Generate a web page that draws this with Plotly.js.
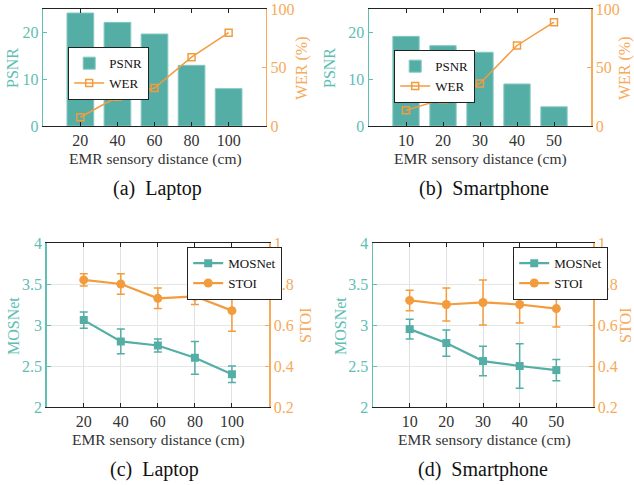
<!DOCTYPE html>
<html><head><meta charset="utf-8">
<script src="https://cdn.plot.ly/plotly-3.0.1.min.js"></script>
<style>html,body{margin:0;padding:0;background:#fff}#chart{width:634px;height:485px}</style>
</head><body><div id="chart"></div>
<script>
// ---- data ----
const laptopDist = [20, 40, 60, 80, 100];
const phoneDist = [10, 20, 30, 40, 50];
const laptopPSNR = [24.2, 22.2, 19.7, 13.0, 8.0];
const laptopWER = [7.5, 25, 32.5, 59, 80];
const phonePSNR = [19.2, 17.2, 15.8, 9.0, 4.1];
const phoneWER = [13.5, 23, 36.5, 69, 89];
const laptopMOS = [3.06, 2.80, 2.75, 2.60, 2.40];
const laptopMOSErr = [0.10, 0.15, 0.08, 0.20, 0.10];
const laptopSTOI = [0.82, 0.80, 0.73, 0.74, 0.67];
const laptopSTOIErr = [0.03, 0.05, 0.05, 0.04, 0.10];
const phoneMOS = [2.95, 2.78, 2.56, 2.50, 2.45];
const phoneMOSErr = [0.12, 0.16, 0.18, 0.27, 0.13];
const phoneSTOI = [0.72, 0.70, 0.71, 0.70, 0.68];
const phoneSTOIErr = [0.05, 0.08, 0.11, 0.09, 0.09];
const captions = ['(a)\u00a0 Laptop', '(b)\u00a0 Smartphone', '(c)\u00a0 Laptop', '(d)\u00a0 Smartphone'];
const xTitle = 'EMR sensory distance (cm)';

const W = 634, H = 485;
const TEAL = 'rgb(85,174,165)';
const TEAL_T = 'rgb(96,190,178)';
const ORANGE = 'rgb(243,156,62)';
const ORANGE_T = 'rgb(246,170,90)';
const FONT = '"Liberation Serif", "Times New Roman", serif';
const px = v => v / W;
const py = v => 1 - v / H;

const traces = [
  {type:'bar', x:laptopDist, y:laptopPSNR, name:'PSNR', xaxis:'x', yaxis:'y', width:14.4,
   marker:{color:TEAL, line:{color:'rgb(130,200,192)', width:1}}, legend:'legend'},
  {type:'scatter', mode:'lines+markers', x:laptopDist, y:laptopWER, name:'WER', xaxis:'x', yaxis:'y2',
   line:{color:ORANGE, width:1.5}, marker:{symbol:'square-open', size:7, color:ORANGE, line:{width:1.5}}, legend:'legend'},
  {type:'bar', x:phoneDist, y:phonePSNR, name:'PSNR', xaxis:'x2', yaxis:'y3', width:7.1,
   marker:{color:TEAL, line:{color:'rgb(130,200,192)', width:1}}, legend:'legend2'},
  {type:'scatter', mode:'lines+markers', x:phoneDist, y:phoneWER, name:'WER', xaxis:'x2', yaxis:'y4',
   line:{color:ORANGE, width:1.5}, marker:{symbol:'square-open', size:7, color:ORANGE, line:{width:1.5}}, legend:'legend2'},
  {type:'scatter', mode:'lines+markers', x:laptopDist, y:laptopMOS, name:'MOSNet', xaxis:'x3', yaxis:'y5',
   error_y:{type:'data', array:laptopMOSErr, color:TEAL, thickness:1.5, width:4},
   line:{color:TEAL, width:2.2}, marker:{symbol:'square', size:8, color:TEAL}, legend:'legend3'},
  {type:'scatter', mode:'lines+markers', x:laptopDist, y:laptopSTOI, name:'STOI', xaxis:'x3', yaxis:'y6',
   error_y:{type:'data', array:laptopSTOIErr, color:ORANGE, thickness:1.5, width:4},
   line:{color:ORANGE, width:2.2}, marker:{symbol:'circle', size:9, color:ORANGE}, legend:'legend3'},
  {type:'scatter', mode:'lines+markers', x:phoneDist, y:phoneMOS, name:'MOSNet', xaxis:'x4', yaxis:'y7',
   error_y:{type:'data', array:phoneMOSErr, color:TEAL, thickness:1.5, width:4},
   line:{color:TEAL, width:2.2}, marker:{symbol:'square', size:8, color:TEAL}, legend:'legend4'},
  {type:'scatter', mode:'lines+markers', x:phoneDist, y:phoneSTOI, name:'STOI', xaxis:'x4', yaxis:'y8',
   error_y:{type:'data', array:phoneSTOIErr, color:ORANGE, thickness:1.5, width:4},
   line:{color:ORANGE, width:2.2}, marker:{symbol:'circle', size:9, color:ORANGE}, legend:'legend4'}
];

const TICK = 16;
function xax(dom, anchor, range, tickvals, grid) {
  return {domain:dom, anchor:anchor, range:range, tickvals:tickvals, ticks:'inside', ticklen:4,
    tickcolor:'#222', linecolor:'#222', linewidth:1.2, showline:true, mirror:'ticks',
    showgrid:grid, gridcolor:'rgb(225,225,225)', gridwidth:1, zeroline:false,
    tickfont:{family:FONT, size:TICK, color:'#333'}};
}
function yl(dom, anchor, range, dtick, grid) {
  return {domain:dom, anchor:anchor, range:range, dtick:dtick, ticks:'inside', ticklen:4,
    tickcolor:TEAL_T, linecolor:TEAL_T, linewidth:1.5, showline:true, side:'left',
    showgrid:grid, gridcolor:'rgb(225,232,230)', gridwidth:1, zeroline:false,
    tickfont:{family:FONT, size:TICK, color:TEAL_T}};
}
function yr(overlay, anchor, range, dtick) {
  return {overlaying:overlay, anchor:anchor, range:range, dtick:dtick, side:'right', ticks:'inside', ticklen:4,
    tickcolor:ORANGE_T, linecolor:ORANGE_T, linewidth:1.5, showline:true,
    showgrid:false, zeroline:false, tickfont:{family:FONT, size:TICK, color:ORANGE_T}};
}

const topY = [py(126), py(9.3)];
const botY = [py(407), py(243)];

function leg(x, y) {
  return {x:px(x), y:py(y), xanchor:'left', yanchor:'top', bgcolor:'#fff', bordercolor:'#222', borderwidth:1.2,
    font:{family:FONT, size:13, color:'#111'}, tracegroupgap:0, itemwidth:30};
}

const ann = [];
function A(text, x, y, size, color, angle) {
  ann.push({text:text, x:px(x), y:py(y), xref:'paper', yref:'paper', showarrow:false,
    xanchor:'center', yanchor:'middle', textangle:angle||0,
    font:{family:FONT, size:size, color:color}});
}
// axis titles
A('PSNR', 13, 68, 16, TEAL_T, -90); A('WER (%)', 302, 68, 16, ORANGE_T, -90);
A('PSNR', 330, 68, 16, TEAL_T, -90); A('WER (%)', 625, 68, 16, ORANGE_T, -90);
A('MOSNet', 13, 326, 16, TEAL_T, -90); A('STOI', 305, 326, 16, ORANGE_T, -90);
A('MOSNet', 340, 326, 16, TEAL_T, -90); A('STOI', 625, 326, 16, ORANGE_T, -90);
A(xTitle, 155.5, 159, 15.5, '#333');
A(xTitle, 480, 159, 15.5, '#333');
A(xTitle, 158, 440, 15.5, '#333');
A(xTitle, 484, 440, 15.5, '#333');
A(captions[0], 157, 189, 20, '#111');
A(captions[1], 484, 189, 20, '#111');
A(captions[2], 154, 469, 20, '#111');
A(captions[3], 483, 469, 20, '#111');

const layout = {
  width:W, height:H, margin:{l:0, r:0, t:0, b:0}, paper_bgcolor:'#fff', plot_bgcolor:'#fff',
  font:{family:FONT}, bargap:0,
  xaxis: xax([px(43.3), px(265.7)], 'y', [0, 120], laptopDist, false),
  yaxis: yl(topY, 'x', [0, 25], 10, false),
  yaxis2: yr('y', 'x', [0, 100], 50),
  xaxis2: xax([px(369), px(591)], 'y3', [0, 60], phoneDist, false),
  yaxis3: yl(topY, 'x2', [0, 25], 10, false),
  yaxis4: yr('y3', 'x2', [0, 100], 50),
  xaxis3: xax([px(46.7), px(269)], 'y5', [0, 120], laptopDist, true),
  yaxis5: yl(botY, 'x3', [2, 4], 0.5, true),
  yaxis6: yr('y5', 'x3', [0.2, 1], 0.2),
  xaxis4: xax([px(373), px(593)], 'y7', [0, 60], phoneDist, true),
  yaxis7: yl(botY, 'x4', [2, 4], 0.5, true),
  yaxis8: yr('y7', 'x4', [0.2, 1], 0.2),
  legend: leg(68, 47),
  legend2: leg(394, 50),
  legend3: leg(187, 247),
  legend4: leg(513, 247),
  annotations: ann
};

Plotly.newPlot('chart', traces, layout, {staticPlot:true, displayModeBar:false});
</script></body></html>
